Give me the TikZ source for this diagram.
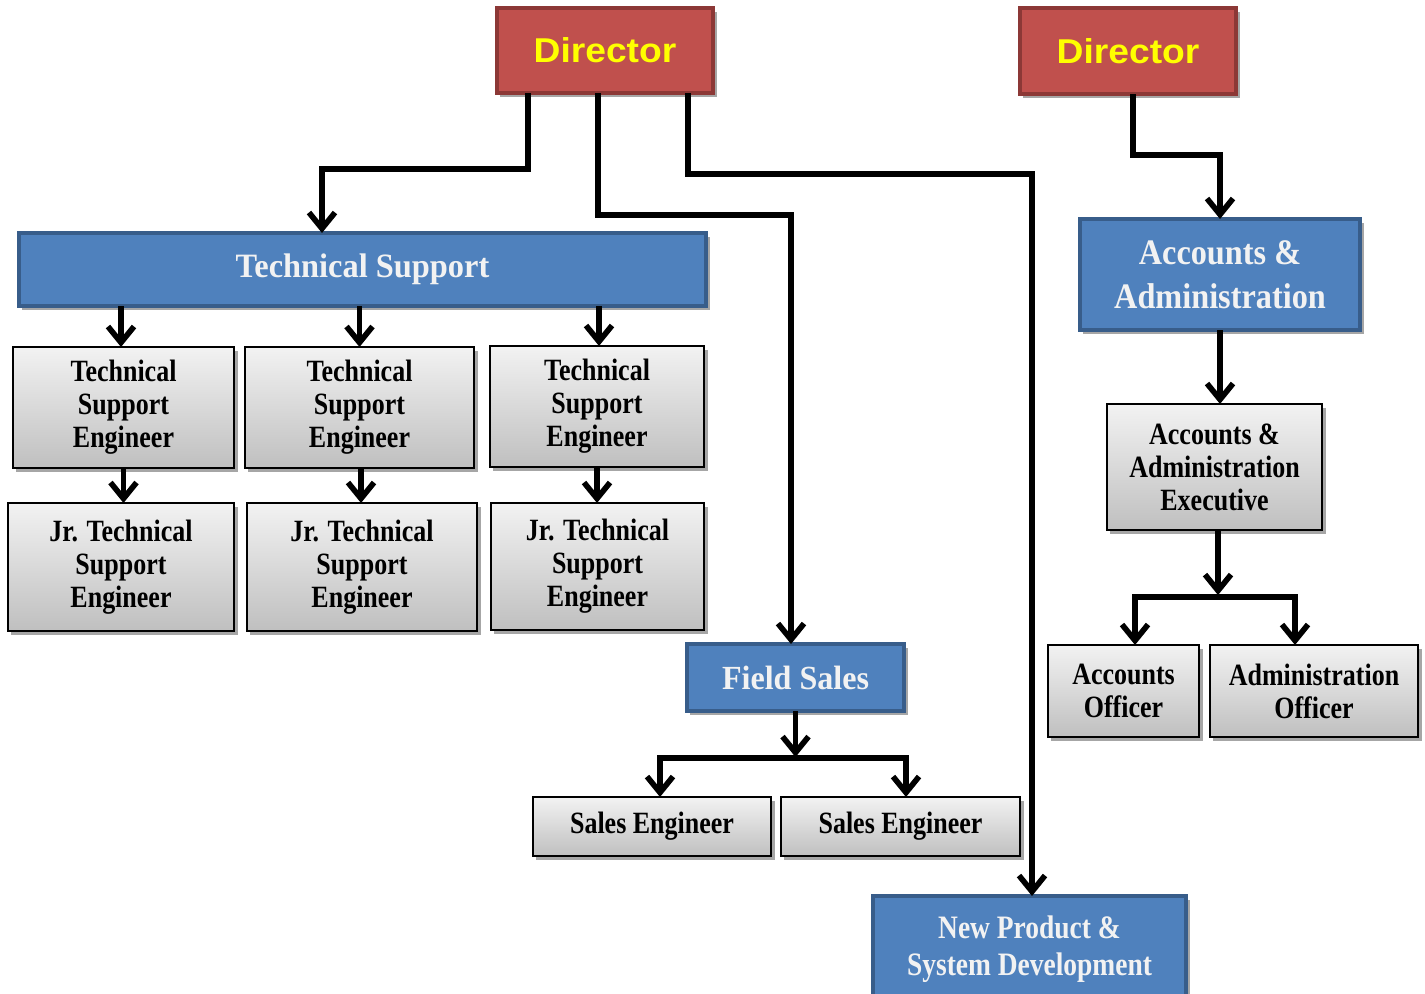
\documentclass[tikz,border=0pt]{standalone}
\usepackage{fontspec}
\usetikzlibrary{arrows.meta,shadows}
\newfontfamily\gfont{Liberation Serif}[FakeStretch=0.84]
\newfontfamily\hfont{Liberation Serif}[FakeStretch=0.95]
\newfontfamily\afont{Liberation Serif}[FakeStretch=0.9]
\newfontfamily\dfont{Liberation Sans}[FakeStretch=1.08]
\definecolor{redfill}{HTML}{C0504D}
\definecolor{redline}{HTML}{8C3836}
\definecolor{bluefill}{HTML}{4F81BD}
\definecolor{blueline}{HTML}{385D8A}
\definecolor{dirtext}{HTML}{FFFF00}
\begin{document}
\begin{tikzpicture}[x=0.01cm,y=-0.01cm,
 box/.style={rectangle, inner sep=0pt, outer sep=0pt, align=center},
 shad/.style={drop shadow={shadow xshift=0.35mm, shadow yshift=-0.4mm, fill=black, opacity=0.35}},
 redbox/.style={box, shad, fill=redfill, draw=redline, line width=1.3pt, text=dirtext,
   font=\dfont\bfseries\fontsize{9.8}{11}\selectfont},
 bluebox/.style={box, shad, fill=bluefill, draw=blueline, line width=1.1pt, text=white!95!black},
 graybox/.style={box, shad, draw=black, line width=0.8pt, top color=white!95!black, bottom color=black!25,
   font=\gfont\bfseries\fontsize{8.8}{9.4}\selectfont},
 tip/.tip={Straight Barb[length=1.6mm,width=2.6mm]},
 arr/.style={line width=1.6pt, -tip},
 arrb/.style={line width=1.6pt, tip-tip}]
\useasboundingbox (0,0) rectangle (1425,993);
% top
\node[redbox, minimum width=2.16cm, minimum height=0.85cm] (dir1) at (605,50.5) {Director};
\node[redbox, minimum width=2.16cm, minimum height=0.86cm] (dir2) at (1128,51) {Director};
% technical support
\node[bluebox, font=\hfont\bfseries\fontsize{9.7}{11}\selectfont, minimum width=6.87cm, minimum height=0.73cm] (ts) at (362.5,269.5) {Technical Support};
\node[graybox, minimum width=2.21cm, minimum height=1.21cm] (tse1) at (123.5,407.5) {Technical\\Support\\Engineer};
\node[graybox, minimum width=2.29cm, minimum height=1.21cm] (tse2) at (359.5,407.5) {Technical\\Support\\Engineer};
\node[graybox, minimum width=2.14cm, minimum height=1.21cm] (tse3) at (597,406.5) {Technical\\Support\\Engineer};
\node[graybox, minimum width=2.26cm, minimum height=1.28cm] (jr1) at (121,567) {Jr. Technical\\Support\\Engineer};
\node[graybox, minimum width=2.30cm, minimum height=1.28cm] (jr2) at (362,567) {Jr. Technical\\Support\\Engineer};
\node[graybox, minimum width=2.13cm, minimum height=1.27cm] (jr3) at (597.5,566.5) {Jr. Technical\\Support\\Engineer};
% field sales
\node[bluebox, font=\hfont\bfseries\fontsize{9.6}{11}\selectfont, minimum width=2.17cm, minimum height=0.67cm] (fs) at (795.5,677.5) {Field Sales};
\node[graybox, minimum width=2.38cm, minimum height=0.59cm] (se1) at (652,826.5) {Sales Engineer};
\node[graybox, minimum width=2.39cm, minimum height=0.59cm] (se2) at (900.5,826.5) {Sales Engineer};
% new product
\node[bluebox, font=\gfont\bfseries\fontsize{9.3}{10.5}\selectfont, minimum width=3.13cm, minimum height=1.06cm] (np) at (1029.5,949) {New Product \&\\System Development};
% accounts
\node[bluebox, font=\afont\bfseries\fontsize{10.2}{12.5}\selectfont, minimum width=2.80cm, minimum height=1.11cm] (aa) at (1220,274.5) {Accounts \&\\Administration};
\node[graybox, minimum width=2.15cm, minimum height=1.26cm] (aae) at (1214.5,467) {Accounts \&\\Administration\\Executive};
\node[graybox, minimum width=1.51cm, minimum height=0.92cm] (ao) at (1123.5,691) {Accounts\\Officer};
\node[graybox, minimum width=2.08cm, minimum height=0.92cm] (ado) at (1314,691) {Administration\\Officer};
% connectors from director 1
\draw[arr] ([xshift=-7.7mm]dir1.south) -- ++(0,76) -| ([xshift=-4.05mm]ts.north);
\draw[arr] ([xshift=-0.7mm]dir1.south) -- ++(0,122) -| ([xshift=-0.45mm]fs.north);
\draw[arr] ([xshift=8.3mm]dir1.south) -- ++(0,81) -| ([xshift=0.25mm]np.north);
% director 2
\draw[arr] ([xshift=0.5mm]dir2.south) -- ++(0,61) -| (aa.north);
% technical support tree
\draw[arr] ([xshift=-0.25mm]tse1.north |- ts.south) -- ([xshift=-0.25mm]tse1.north);
\draw[arr] (tse2.north |- ts.south) -- (tse2.north);
\draw[arr] ([xshift=0.2mm]tse3.north |- ts.south) -- ([xshift=0.2mm]tse3.north);
\draw[arr] (tse1.south) -- (jr1.north -| tse1.south);
\draw[arr] ([xshift=0.15mm]tse2.south) -- ([xshift=0.15mm]jr2.north -| tse2.south);
\draw[arr] (tse3.south) -- (jr3.north -| tse3.south);
% field sales tree
\draw[arr] (fs.south) -- ++(0,46);
\draw[arrb] ([xshift=0.8mm]se1.north) -- ++(0,-39) -| ([xshift=0.55mm]se2.north);
% accounts tree
\draw[arr] (aa.south) -- (aae.north -| aa.south);
\draw[arr] ([xshift=0.35mm]aae.south) -- ++(0,65);
\draw[arrb] ([xshift=1.15mm]ao.north) -- ++(0,-48) -| ([xshift=-1.9mm]ado.north);
\end{tikzpicture}
\end{document}
